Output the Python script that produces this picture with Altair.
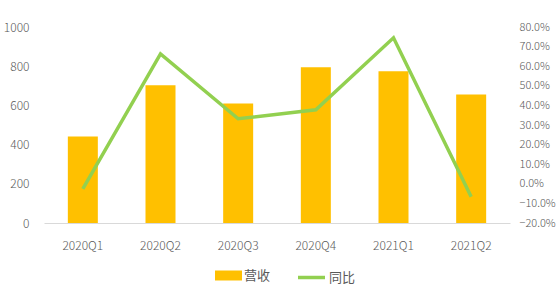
import altair as alt
import pandas as pd

quarters = ["2020Q1", "2020Q2", "2020Q3", "2020Q4", "2021Q1", "2021Q2"]
revenue = [441, 703, 610, 795, 774, 656]
yoy = [-0.026, 0.663, 0.332, 0.378, 0.745, -0.066]

df = pd.DataFrame({"季度": quarters, "营收": revenue, "同比": yoy,
                   "s1": ["营收"] * 6, "s2": ["同比"] * 6})

FONT = "Noto Sans CJK SC"
GREY = "#595959"

x = alt.X("季度:N", sort=quarters, title=None,
          scale=alt.Scale(type="band", paddingInner=0, paddingOuter=0),
          axis=alt.Axis(labelAngle=0, ticks=False, domainColor="#D9D9D9",
                        labelPadding=17, labelFontSize=12, labelColor=GREY,
                        labelFont=FONT, labelFontWeight=300))

bars = alt.Chart(df).mark_bar(size=30).encode(
    x=x,
    y=alt.Y("营收:Q", title=None,
            scale=alt.Scale(domain=[0, 1000]),
            axis=alt.Axis(values=[0, 200, 400, 600, 800, 1000], format="d",
                          grid=False, domain=False, ticks=False, labelPadding=15,
                          labelFontSize=12, labelColor=GREY, labelFont=FONT,
                          labelFontWeight=300)),
    fill=alt.Fill("s1:N", title=None,
                  scale=alt.Scale(domain=["营收"], range=["#FFC000"]),
                  legend=alt.Legend(orient="none", legendX=171, legendY=235,
                                    symbolType="M-1,-0.37L1,-0.37L1,0.37L-1,0.37Z",
                                    symbolSize=729, symbolStrokeWidth=0,
                                    labelFontSize=13, labelColor=GREY,
                                    labelFont=FONT, labelOffset=2, padding=0)),
)

line = alt.Chart(df).mark_line(strokeWidth=3.5).encode(
    x=x,
    y=alt.Y("同比:Q", title=None,
            scale=alt.Scale(domain=[-0.2, 0.8]),
            axis=alt.Axis(orient="right", format=".1%",
                          values=[-0.2, -0.1, 0, 0.1, 0.2, 0.3, 0.4, 0.5, 0.6, 0.7, 0.8],
                          grid=False, domain=False, ticks=False, labelPadding=9,
                          labelFontSize=11, labelColor=GREY, labelFont=FONT,
                          labelFontWeight=300)),
    stroke=alt.Stroke("s2:N", title=None,
                      scale=alt.Scale(domain=["同比"], range=["#92D050"]),
                      legend=alt.Legend(orient="none", legendX=252, legendY=235,
                                        symbolType="M-1,0L1,0",
                                        symbolSize=729, symbolStrokeWidth=3.5,
                                        labelFontSize=13, labelColor=GREY,
                                        labelFont=FONT, labelOffset=2, padding=0)),
)

chart = alt.layer(bars, line).resolve_scale(
    y="independent", fill="independent", stroke="independent"
).properties(
    width=466, height=196,
    autosize=alt.AutoSizeParams(type="none"),
    padding={"left": 44, "top": 27, "right": 48, "bottom": 64},
).configure(background="white").configure_view(stroke=None)

chart.save("out.html", embed_options={"renderer": "svg", "actions": False})
